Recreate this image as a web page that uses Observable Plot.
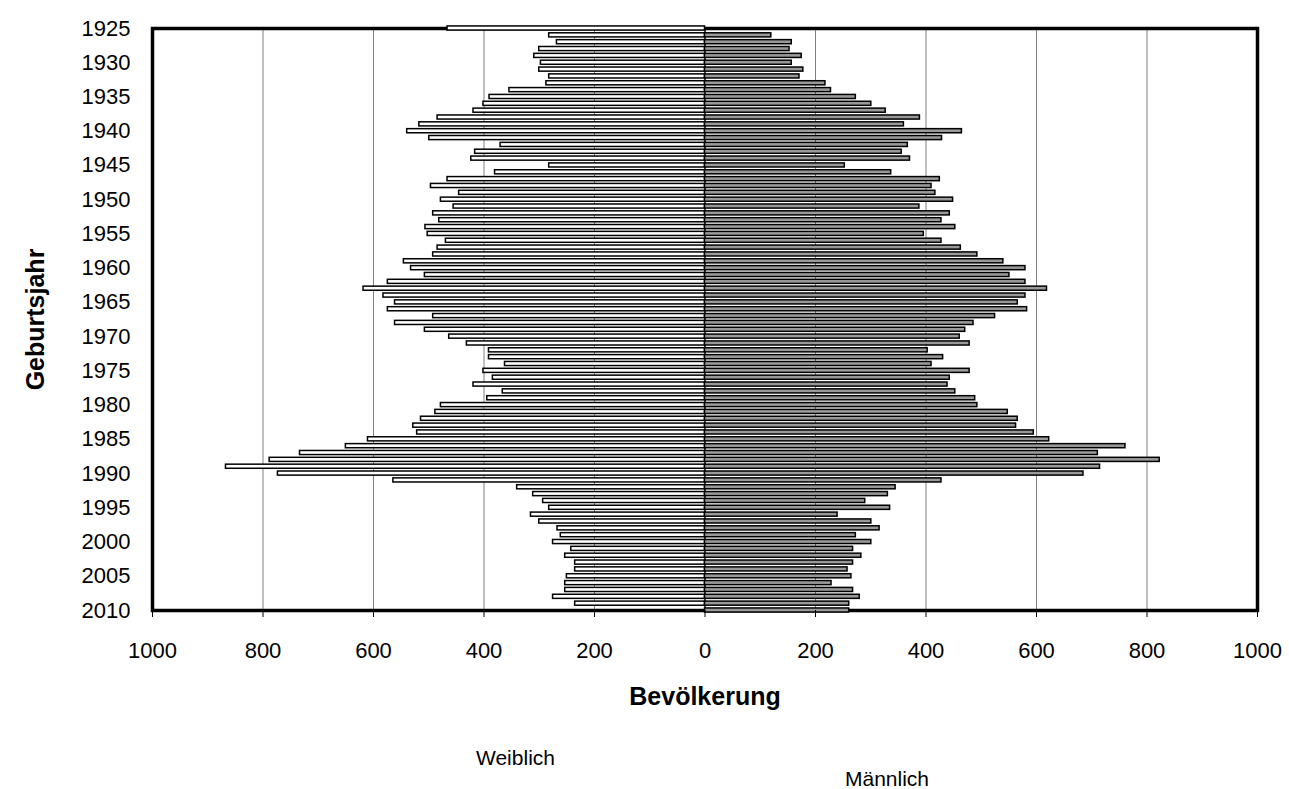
<!DOCTYPE html>
<html>
<head>
<meta charset="utf-8">
<script src="https://cdn.jsdelivr.net/npm/d3@7"></script>
<script src="https://cdn.jsdelivr.net/npm/@observablehq/plot@0.6"></script>
<style>
  html, body { margin: 0; padding: 0; background: #fff; }
  #wrap { position: relative; width: 1289px; height: 789px; font-family: Arial, "Liberation Sans", sans-serif; }
  #legend { position: relative; width: 1289px; height: 69px; }
  #legend span { position: absolute; font-size: 21px; line-height: 21px; color: #000; white-space: nowrap; }
</style>
</head>
<body>
<div id="wrap">
  <div id="chart"></div>
  <div id="legend">
    <span id="lw" style="left:476px; top:27px;">Weiblich</span>
    <span id="lm" style="left:845px; top:48px;">Männlich</span>
  </div>
</div>
<script>
// Birth years (categories)
const years = d3.range(1925, 2011);

// Female population (Weiblich) per birth year, 1925..2010 (null = not shown)
const weiblich = [
  466, 282, 268, 300, 309, 297, 300, 282, 287, 354,
  390, 401, 419, 484, 517, 539, 499, 370, 416, 423,
  282, 380, 466, 496, 445, 478, 455, 492, 481, 506,
  502, 469, 484, 492, 545, 532, 507, 574, 618, 582,
  561, 574, 492, 561, 507, 463, 431, 391, 391, 362,
  401, 384, 419, 366, 394, 478, 488, 514, 528, 521,
  610, 650, 733, 788, 867, 773, 564, 340, 311, 293,
  282, 315, 300, 267, 261, 275, 242, 253, 235, 235,
  250, 253, 253, 275, 235, null
];

// Male population (Männlich) per birth year, 1925..2010 (null = not shown)
const maennlich = [
  null, 120, 157, 153, 175, 157, 178, 171, 218, 228,
  273, 301, 327, 389, 360, 465, 429, 367, 356, 371,
  253, 337, 425, 410, 417, 449, 388, 443, 428, 453,
  396, 428, 463, 493, 540, 580, 551, 580, 619, 580,
  566, 583, 525, 486, 471, 461, 479, 403, 431, 410,
  479, 443, 439, 453, 489, 493, 548, 566, 563, 595,
  623, 761, 711, 823, 715, 685, 428, 345, 331, 290,
  335, 240, 301, 316, 273, 301, 268, 283, 268, 258,
  265, 229, 268, 280, 261, 261
];

// Axis ticks
const xTicks = [-1000, -800, -600, -400, -200, 0, 200, 400, 600, 800, 1000];
const gridTicks = [-800, -600, -400, -200, 200, 400, 600, 800];
const yTicks = [1925, 1930, 1935, 1940, 1945, 1950, 1955, 1960, 1965, 1970, 1975, 1980, 1985, 1990, 1995, 2000, 2005, 2010];

const femaleRows = years.map((y, i) => ({year: y, value: weiblich[i]})).filter(d => d.value != null);
const maleRows = years.map((y, i) => ({year: y, value: maennlich[i]})).filter(d => d.value != null);

const half = 0.3;

const chart = Plot.plot({
  width: 1289,
  height: 720,
  marginLeft: 152,
  marginRight: 32,
  marginTop: 28,
  marginBottom: 110,
  style: {fontFamily: 'Arial, "Liberation Sans", sans-serif', fontSize: "22px", color: "#000", background: "#fff", overflow: "visible"},
  x: {domain: [-1000, 1000]},
  y: {domain: [1925, 2010], reverse: true},
  marks: [
    Plot.gridX(gridTicks, {stroke: "#808080", strokeOpacity: 1, strokeWidth: 1}),
    Plot.frame({stroke: "#000", strokeWidth: 3.5}),
    Plot.ruleX([0], {stroke: "#000", strokeWidth: 1.5}),
    Plot.rectX(femaleRows, {x1: 0, x2: d => -d.value, y1: d => d.year - half, y2: d => d.year + half, fill: "#fff", stroke: "#000", strokeWidth: 1.5}),
    Plot.rectX(maleRows, {x1: 0, x2: d => d.value, y1: d => d.year - half, y2: d => d.year + half, fill: "#999999", stroke: "#000", strokeWidth: 1.5}),
    Plot.axisX({ticks: xTicks, tickFormat: d => String(Math.abs(d)), tickSize: 7, tickPadding: 25, label: null, stroke: "#000"}),
    Plot.axisY({ticks: yTicks, tickFormat: d => String(d), tickSize: 0, tickPadding: 22, label: null}),
    Plot.text(["Bevölkerung"], {frameAnchor: "bottom", text: d => d, dy: 94, fontWeight: "bold", fontSize: 25}),
    Plot.text(["Geburtsjahr"], {frameAnchor: "left", textAnchor: "middle", text: d => d, dx: -117, rotate: -90, fontWeight: "bold", fontSize: 25})
  ]
});
document.getElementById("chart").appendChild(chart);
</script>
</body>
</html>
